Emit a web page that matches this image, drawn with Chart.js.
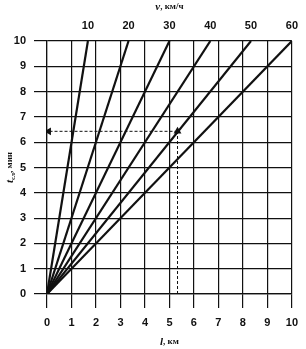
<!DOCTYPE html>
<html>
<head>
<meta charset="utf-8">
<script src="https://cdn.jsdelivr.net/npm/chart.js@4/dist/chart.umd.min.js"></script>
<style>
    html, body { margin: 0; padding: 0; background: #fff; }
    #wrap { width: 306px; height: 349px; }
</style>
</head>
<body>
<div id="wrap"><canvas id="chart"></canvas></div>
<script>
// speed of each line, km/h (labels on the top axis)
const speeds = [10, 20, 30, 40, 50, 60];
// distance l (km) where each speed line reaches t = 10 min
const lineEnds = [1.67, 3.33, 5, 6.67, 8.33, 10];
// worked example
const exampleL = [5.33, 5.33, 0.07];
const exampleT = [0, 6.43, 6.43];

const tickFont = { family: 'Liberation Sans, Arial, sans-serif', size: 11, weight: 'bold' };
const ink = '#111';

// one dataset per speed line, from origin to the top edge
const speedSets = lineEnds.map(l => ({
    data: [{ x: 0, y: 0 }, { x: l, y: 10 }],
    borderColor: ink,
    borderWidth: 2.2,
    pointRadius: 0,
    showLine: true
}));

// dashed arrows: up from the l axis, then left to the t axis
const arrowUp = {
    data: [{ x: exampleL[0], y: exampleT[0] }, { x: exampleL[1], y: exampleT[1] }],
    borderColor: ink,
    borderWidth: 1,
    borderDash: [3, 2],
    showLine: true,
    pointStyle: 'triangle',
    pointRadius: [0, 4.5],
    pointBackgroundColor: ink,
    pointBorderColor: ink,
    pointBorderWidth: 0
};
const arrowLeft = {
    data: [{ x: exampleL[1], y: exampleT[1] }, { x: exampleL[2], y: exampleT[2] }],
    borderColor: ink,
    borderWidth: 1,
    borderDash: [3, 2],
    showLine: true,
    pointStyle: 'triangle',
    pointRotation: -90,
    pointRadius: [0, 4.5],
    pointBackgroundColor: ink,
    pointBorderColor: ink,
    pointBorderWidth: 0
};

// axis titles with italic letters and subscript
const titlePlugin = {
    id: 'titles',
    afterDraw(chart) {
        const ctx = chart.ctx;
        const a = chart.chartArea;
        const cx = (a.left + a.right) / 2;
        ctx.save();
        ctx.fillStyle = ink;
        ctx.textBaseline = 'middle';

        function piece(parts, x, y) {
            // parts: [text, font, dy]
            let w = 0;
            parts.forEach(p => { ctx.font = p[1]; w += ctx.measureText(p[0]).width; });
            let px = x - w / 2;
            parts.forEach(p => {
                ctx.font = p[1];
                ctx.textAlign = 'left';
                ctx.fillText(p[0], px, y + (p[2] || 0));
                px += ctx.measureText(p[0]).width;
            });
        }

        const it = 'italic bold 11px Liberation Serif, serif';
        const rm = 'bold 9px Liberation Serif, serif';

        piece([['v', it], [', км/ч', rm]], cx, 7);
        piece([['l', it], [', км', rm]], cx, 342);

        ctx.translate(10, (a.top + a.bottom) / 2);
        ctx.rotate(-Math.PI / 2);
        piece([['t', it], ['сл', 'bold 7px Liberation Serif, serif', 3], [', мин', rm]], 0, 0);
        ctx.restore();
    }
};

new Chart(document.getElementById('chart'), {
    type: 'scatter',
    data: { datasets: [...speedSets, arrowUp, arrowLeft] },
    options: {
        responsive: true,
        maintainAspectRatio: false,
        animation: false,
        layout: { padding: { right: 10 } },
        plugins: { legend: { display: false }, tooltip: { enabled: false } },
        elements: { line: { tension: 0 } },
        scales: {
            x: {
                type: 'linear',
                min: 0, max: 10,
                ticks: { stepSize: 1, color: ink, font: tickFont, padding: 8, maxRotation: 0 },
                grid: { color: ink, lineWidth: 1.2, tickLength: 14 },
                border: { color: ink, width: 1.2 },
                afterFit: s => { s.height = 55; }
            },
            x2: {
                type: 'linear',
                position: 'top',
                min: 0, max: 10,
                display: true,
                grid: { display: false, drawTicks: false },
                border: { display: false },
                ticks: {
                    color: ink, font: tickFont, padding: 8, maxRotation: 0,
                    callback: (v, i) => speeds[i]
                },
                afterBuildTicks: s => { s.ticks = lineEnds.map(v => ({ value: v })); },
                afterFit: s => { s.height = 41; }
            },
            y: {
                type: 'linear',
                min: 0, max: 10,
                ticks: { stepSize: 1, color: ink, font: tickFont, padding: 8 },
                grid: { color: ink, lineWidth: 1.2, tickLength: 13 },
                border: { color: ink, width: 1.2 },
                afterFit: s => { s.width = 47; }
            }
        }
    },
    plugins: [titlePlugin]
});
</script>
</body>
</html>
